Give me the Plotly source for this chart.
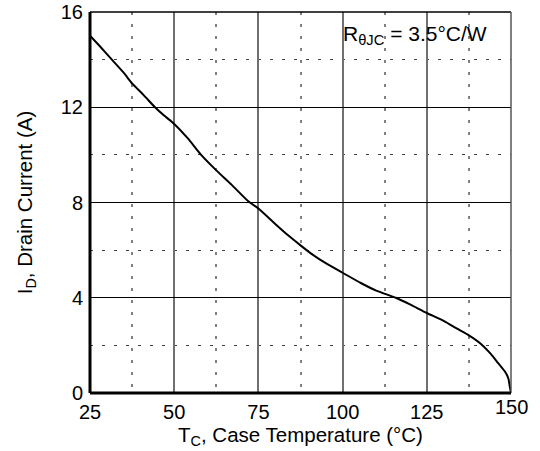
import plotly.graph_objects as go

# Case temperature (°C) and drain current (A)
temp_c = [25, 28, 31.5, 35, 37.5, 41, 44.3, 47, 50, 54, 58, 62.5, 67, 72, 75, 80, 84, 87.5,
          91, 95, 100, 105.4, 110, 115.8, 120, 125, 130, 134, 137.5, 141, 144, 146.2, 148.2,
          149.2, 149.6, 150]
drain_a = [15.0, 14.55, 14.0, 13.45, 13.0, 12.5, 12.0, 11.65, 11.3, 10.7, 10.0, 9.35, 8.75,
           8.05, 7.75, 7.1, 6.6, 6.2, 5.82, 5.45, 5.05, 4.62, 4.3, 4.0, 3.72, 3.36, 3.03, 2.7,
           2.42, 2.07, 1.64, 1.25, 0.9, 0.62, 0.3, 0.0]

x_ticks = [25, 50, 75, 100, 125, 150]
x_tick_labels = ["25", "50", "75", "100", "125", ""]   # "150" drawn slightly raised, as in the reference
last_x_label = "150"
y_ticks = [0, 4, 8, 12, 16]

FONT = "Liberation Sans, Arial, Helvetica, sans-serif"

fig = go.Figure()
fig.add_trace(go.Scatter(x=temp_c, y=drain_a, mode="lines",
                         line=dict(color="black", width=2, shape="spline", smoothing=0.6),
                         showlegend=False, hoverinfo="skip"))

fig.update_layout(
    width=540, height=451,
    margin=dict(l=90, r=29, t=12, b=58, pad=0, autoexpand=False),
    plot_bgcolor="white", paper_bgcolor="white",
    font=dict(family=FONT, size=20, color="black"),
    xaxis=dict(
        range=[25, 150], tickvals=x_ticks, ticktext=x_tick_labels,
        automargin=False,
        showgrid=True, gridcolor="#707070", gridwidth=1.5,
        ticks="", ticklabelstandoff=5, zeroline=False, showline=False,
        minor=dict(dtick=12.5, tick0=25, showgrid=True, gridcolor="#808080",
                   gridwidth=1.5, griddash="3px,9px"),
        title=dict(text="T<sub>C</sub>, Case Temperature (°C)", standoff=2,
                   font=dict(size=20.5)),
        tickfont=dict(size=20),
    ),
    yaxis=dict(
        range=[0, 16], tickvals=y_ticks, automargin=False,
        showgrid=True, gridcolor="black", gridwidth=1,
        ticks="", ticklabelstandoff=6, zeroline=False, showline=False,
        minor=dict(dtick=2, tick0=0, showgrid=True, gridcolor="#404040",
                   gridwidth=1, griddash="3px,9px"),
        title=dict(text="I<sub>D</sub>, Drain Current (A)", standoff=22,
                   font=dict(size=20.5)),
        tickfont=dict(size=20),
    ),
    shapes=[
        dict(type="line", xref="paper", yref="paper", x0=0, x1=1, y0=1, y1=1,
             line=dict(color="black", width=1.5)),
        dict(type="line", xref="paper", yref="paper", x0=1, x1=1, y0=0, y1=1,
             line=dict(color="#555555", width=1.5)),
        dict(type="line", xref="paper", yref="paper", x0=0, x1=0, y0=0, y1=1,
             line=dict(color="black", width=3)),
        dict(type="line", xref="paper", yref="paper", x0=0, x1=1, y0=0, y1=0,
             line=dict(color="black", width=3)),
    ],
    annotations=[
        dict(text="R<sub>θJC</sub> = 3.5°C/W", xref="paper", yref="paper",
             x=0.947, y=0.978, xanchor="right", yanchor="top", showarrow=False,
             font=dict(size=21)),
        dict(text=last_x_label, xref="x", yref="paper", x=150, y=0,
             xanchor="center", yanchor="middle", yshift=-14, showarrow=False,
             font=dict(size=20)),
    ],
)

fig.write_html("out.html", config={"displayModeBar": False},
               post_script="document.body.style.margin='0px';")
